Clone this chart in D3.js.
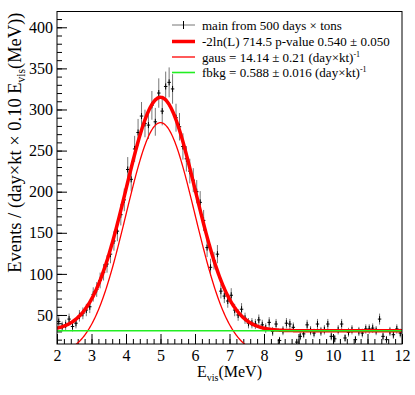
<!DOCTYPE html>
<html>
<head>
<meta charset="utf-8">
<script src="https://cdnjs.cloudflare.com/ajax/libs/d3/7.8.5/d3.min.js"></script>
<style>
  body { margin: 0; background: #fff; }
  text { font-family: "Liberation Serif", "Times New Roman", serif; fill: #000; }
</style>
</head>
<body>
<div id="chart"></div>
<script>
// bin centres (MeV), 0.1 MeV bins from 2 to 12
var binCentres = [2.05, 2.15, 2.25, 2.35, 2.45, 2.55, 2.65, 2.75, 2.85, 2.95,
                  3.05, 3.15, 3.25, 3.35, 3.45, 3.55, 3.65, 3.75, 3.85, 3.95,
                  4.05, 4.15, 4.25, 4.35, 4.45, 4.55, 4.65, 4.75, 4.85, 4.95,
                  5.05, 5.15, 5.25, 5.35, 5.45, 5.55, 5.65, 5.75, 5.85, 5.95,
                  6.05, 6.15, 6.25, 6.35, 6.45, 6.55, 6.65, 6.75, 6.85, 6.95,
                  7.05, 7.15, 7.25, 7.35, 7.45, 7.55, 7.65, 7.75, 7.85, 7.95,
                  8.05, 8.15, 8.25, 8.35, 8.45, 8.55, 8.65, 8.75, 8.85, 8.95,
                  9.05, 9.15, 9.25, 9.35, 9.45, 9.55, 9.65, 9.75, 9.85, 9.95,
                  10.05, 10.15, 10.25, 10.35, 10.45, 10.55, 10.65, 10.75, 10.85, 10.95,
                  11.05, 11.15, 11.25, 11.35, 11.45, 11.55, 11.65, 11.75, 11.85, 11.95];

// events per bin
var events = [42, 36, 38, 45, 36, 40, 49, 52, 56, 60,
              75, 81, 92, 102, 112, 124, 140, 152, 172, 190,
              227, 215, 252, 272, 292, 283, 281, 305, 285, 320,
              298, 328, 333, 325, 290, 279, 255, 240, 225, 214,
              200, 187, 165, 132, 108, 116, 124, 79, 73, 67,
              74, 56, 50, 57, 46, 40, 40, 39, 44, 38,
              34, 41, 30, 39, 19, 31, 40, 39, 35, 17,
              24, 27, 38, 31, 28, 39, 30, 32, 39, 24,
              21, 32, 39, 22, 29, 32, 20, 30, 28, 33,
              33, 34, 31, 45, 24, 20, 30, 26, 33, 28];

// error on each bin
var errors = [6.5, 6.0, 6.2, 6.7, 6.0, 6.3, 7.0, 7.2, 7.5, 7.7,
              8.7, 9.0, 9.6, 10.1, 10.6, 11.1, 11.8, 12.3, 13.1, 13.8,
              15.1, 14.7, 15.9, 16.5, 17.1, 16.8, 16.8, 17.5, 16.9, 17.9,
              17.3, 18.1, 18.2, 18.0, 17.0, 16.7, 16.0, 15.5, 15.0, 14.6,
              14.1, 13.7, 12.8, 11.5, 10.4, 10.8, 11.1, 8.9, 8.5, 8.2,
              8.6, 7.5, 7.1, 7.5, 6.8, 6.3, 6.3, 6.2, 6.6, 6.2,
              5.8, 6.4, 5.5, 6.2, 4.4, 5.6, 6.3, 6.2, 5.9, 4.1,
              4.9, 5.2, 6.2, 5.6, 5.3, 6.2, 5.5, 5.7, 6.2, 4.9,
              4.6, 5.7, 6.2, 4.7, 5.4, 5.7, 4.5, 5.5, 5.3, 5.7,
              5.7, 5.8, 5.6, 6.7, 4.9, 4.5, 5.5, 5.1, 5.7, 5.3];

// fit result: gaussian peak + flat background
var gausAmp = 284;
var gausMean = 5.0;
var gausSigma = 1.0;
var bkgLevel = 30.8;

var xTicks = [2, 3, 4, 5, 6, 7, 8, 9, 10, 11, 12];
var yTicks = [50, 100, 150, 200, 250, 300, 350, 400];

var legendLabels = ["main from 500 days \u00d7 tons",
                    "-2ln(L) 714.5 p-value 0.540 \u00b1 0.050",
                    "gaus = 14.14 \u00b1 0.21 (day\u00d7kt)",
                    "fbkg = 0.588 \u00b1 0.016 (day\u00d7kt)"];

function loaddata() {
    var w = 415, h = 395;
    var left = 57, right = 402, top = 11.5, bottom = 344;
    var serif = "'Liberation Serif', 'Times New Roman', serif";

    var svg = d3.select("#chart").append("svg")
                .attr("width", w)
                .attr("height", h)
                .attr("font-family", serif);

    var x = d3.scaleLinear().domain([2, 12]).range([left, right]);
    var y = d3.scaleLinear().domain([14.7, 419.2]).range([bottom, top]);

    svg.append("clipPath").attr("id", "clip")
       .append("rect")
       .attr("x", left).attr("y", top)
       .attr("width", right - left).attr("height", bottom - top);

    // axes, ticks pointing inwards
    svg.append("g")
       .attr("transform", "translate(0," + bottom + ")")
       .call(d3.axisBottom(x).tickValues(xTicks).tickFormat(d3.format("d"))
               .tickSizeInner(-10).tickSizeOuter(0).tickPadding(6));
    svg.append("g")
       .attr("transform", "translate(0," + bottom + ")")
       .call(d3.axisBottom(x).tickValues(d3.range(2.2, 12, 0.2)).tickFormat("")
               .tickSizeInner(-5).tickSizeOuter(0));

    svg.append("g")
       .attr("transform", "translate(" + left + ",0)")
       .call(d3.axisLeft(y).tickValues(yTicks)
               .tickSizeInner(-10).tickSizeOuter(0).tickPadding(4));
    svg.append("g")
       .attr("transform", "translate(" + left + ",0)")
       .call(d3.axisLeft(y).tickValues(d3.range(20, 420, 10)).tickFormat("")
               .tickSizeInner(-5).tickSizeOuter(0));

    svg.selectAll(".domain").remove();
    svg.selectAll("g").attr("font-family", serif);
    svg.selectAll(".tick line").attr("stroke", "#000");
    svg.selectAll(".tick text").style("font-size", "16px")
       .style("font-family", serif);

    // axis titles
    var xt = svg.append("text")
                .attr("x", (left + right) / 2)
                .attr("y", 377)
                .attr("text-anchor", "middle")
                .style("font-size", "16px");
    xt.append("tspan").text("E");
    xt.append("tspan").attr("dy", 4).style("font-size", "10px").text("vis");
    xt.append("tspan").attr("dy", -4).text("(MeV)");

    var yt = svg.append("text")
                .attr("transform", "translate(21," + (top + 1) + ") rotate(-90)")
                .attr("text-anchor", "end")
                .style("font-size", "18.5px");
    yt.append("tspan").text("Events / (day\u00d7kt \u00d7 0.10 E");
    yt.append("tspan").attr("dy", 4).style("font-size", "11.5px").text("vis");
    yt.append("tspan").attr("dy", -4).text("(MeV))");

    var plot = svg.append("g").attr("clip-path", "url(#clip)");

    // data points with error bars
    var pts = plot.selectAll("g.pt")
                  .data(binCentres.map(function(c, i) { return {e: c, v: events[i], err: errors[i]}; }))
                  .enter().append("g").attr("class", "pt");
    pts.append("line")
       .attr("x1", function(d) { return x(d.e); })
       .attr("x2", function(d) { return x(d.e); })
       .attr("y1", function(d) { return y(d.v - d.err); })
       .attr("y2", function(d) { return y(d.v + d.err); })
       .attr("stroke", "#777").attr("stroke-width", 1);
    pts.append("line")
       .attr("x1", function(d) { return x(d.e - 0.05); })
       .attr("x2", function(d) { return x(d.e + 0.05); })
       .attr("y1", function(d) { return y(d.v); })
       .attr("y2", function(d) { return y(d.v); })
       .attr("stroke", "#000").attr("stroke-width", 1);
    pts.append("line")
       .attr("x1", function(d) { return x(d.e); })
       .attr("x2", function(d) { return x(d.e); })
       .attr("y1", function(d) { return y(d.v) - 3; })
       .attr("y2", function(d) { return y(d.v) + 3; })
       .attr("stroke", "#000").attr("stroke-width", 1);

    // fit curves
    var grid = d3.range(2, 12.001, 0.02);
    var gaus = function(e) { return gausAmp * Math.exp(-Math.pow(e - gausMean, 2) / (2 * gausSigma * gausSigma)); };
    var line = d3.line().x(function(d) { return x(d[0]); }).y(function(d) { return y(d[1]); });

    plot.append("path")
        .attr("d", line(grid.map(function(e) { return [e, gaus(e) + bkgLevel]; })))
        .attr("fill", "none").attr("stroke", "#ff0000").attr("stroke-width", 3.5);
    plot.append("path")
        .attr("d", line(grid.map(function(e) { return [e, gaus(e)]; })))
        .attr("fill", "none").attr("stroke", "#ff0000").attr("stroke-width", 1.3);
    plot.append("path")
        .attr("d", line([[2, bkgLevel], [12, bkgLevel]]))
        .attr("fill", "none").attr("stroke", "#22ee22").attr("stroke-width", 1.6);

    // legend
    var lg = svg.append("g");
    var rows = [25, 41.5, 57, 72.5];
    lg.append("line").attr("x1", 172).attr("x2", 195).attr("y1", rows[0]).attr("y2", rows[0])
      .attr("stroke", "#777");
    lg.append("line").attr("x1", 183.5).attr("x2", 183.5).attr("y1", rows[0] - 4).attr("y2", rows[0] + 4)
      .attr("stroke", "#000");
    lg.append("line").attr("x1", 172).attr("x2", 195).attr("y1", rows[1]).attr("y2", rows[1])
      .attr("stroke", "#ff0000").attr("stroke-width", 3.5);
    lg.append("line").attr("x1", 172).attr("x2", 195).attr("y1", rows[2]).attr("y2", rows[2])
      .attr("stroke", "#ff0000").attr("stroke-width", 1.3);
    lg.append("line").attr("x1", 172).attr("x2", 195).attr("y1", rows[3]).attr("y2", rows[3])
      .attr("stroke", "#22ee22").attr("stroke-width", 1.6);

    legendLabels.forEach(function(t, i) {
        var tx = lg.append("text")
                   .attr("x", 202)
                   .attr("y", rows[i] + 4.5)
                   .style("font-size", "13px");
        tx.append("tspan").text(t);
        if (i >= 2) {
            tx.append("tspan").attr("dy", -5).style("font-size", "8px").text("-1");
        }
    });

    // frame
    svg.append("rect")
       .attr("x", left).attr("y", top)
       .attr("width", right - left).attr("height", bottom - top)
       .attr("fill", "none").attr("stroke", "#000").attr("stroke-width", 1);
}

window.onload = loaddata;
</script>
</body>
</html>
